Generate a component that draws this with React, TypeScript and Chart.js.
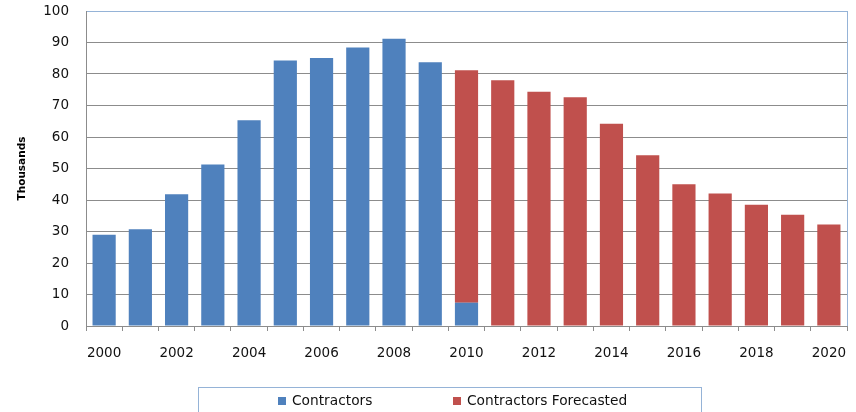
import React, { useEffect, useRef } from "react";
import { Chart, registerables } from "chart.js";

Chart.register(...registerables);

const years = [
  "2000", "2001", "2002", "2003", "2004", "2005", "2006", "2007", "2008", "2009", "2010",
  "2011", "2012", "2013", "2014", "2015", "2016", "2017", "2018", "2019", "2020",
];
const contractors = [29, 30.7, 41.8, 51.3, 65.3, 84.3, 85.1, 88.4, 91.2, 83.7, 7.4,
  null, null, null, null, null, null, null, null, null, null];
const contractorsForecasted = [null, null, null, null, null, null, null, null, null, null, 73.8,
  78, 74.4, 72.6, 64.2, 54.2, 45.0, 42.1, 38.5, 35.3, 32.2];
const seriesNames = ["Contractors", "Contractors Forecasted"];
const yTitle = "Thousands";

const BLUE = "#4F81BD";
const RED = "#C0504D";
const GRID = "#8C8C8C";
const FRAME = "#95B3D7";
const FONT = "'DejaVu Sans', Verdana, sans-serif";

const framePlugin = {
  id: "frame",
  afterDraw(chart: any) {
    const { ctx, chartArea } = chart;
    ctx.save();
    ctx.strokeStyle = FRAME;
    ctx.lineWidth = 1;
    ctx.beginPath();
    ctx.moveTo(Math.round(chartArea.right) + 0.5, chartArea.top);
    ctx.lineTo(Math.round(chartArea.right) + 0.5, chartArea.bottom);
    ctx.stroke();
    ctx.strokeStyle = FRAME;
    ctx.strokeRect(198.5, 387.5, 503, 40);
    const items = [
      { x: 278, color: BLUE, text: seriesNames[0] },
      { x: 453, color: RED, text: seriesNames[1] },
    ];
    ctx.font = `13.75px ${FONT}`;
    ctx.textBaseline = "middle";
    ctx.textAlign = "left";
    for (const it of items) {
      ctx.fillStyle = it.color;
      ctx.fillRect(it.x, 397, 8, 8);
      ctx.fillStyle = "#111";
      ctx.fillText(it.text, it.x + 14, 401.5);
    }
    ctx.restore();
  },
};

export default function App() {
  const ref = useRef<HTMLCanvasElement | null>(null);
  useEffect(() => {
    document.body.style.margin = "0";
    const chart = new Chart(ref.current!, {
      type: "bar",
      data: {
        labels: years,
        datasets: [
          { label: seriesNames[0], data: contractors as any, backgroundColor: BLUE, barPercentage: 0.64, categoryPercentage: 1 },
          { label: seriesNames[1], data: contractorsForecasted as any, backgroundColor: RED, barPercentage: 0.64, categoryPercentage: 1 },
        ],
      },
      options: {
        animation: false,
        responsive: true,
        maintainAspectRatio: false,
        layout: { padding: { top: 11, right: 9, left: 0, bottom: 0 } },
        plugins: { legend: { display: false }, tooltip: { enabled: false } },
        scales: {
          x: {
            stacked: true,
            afterFit: (s: any) => { s.height = 86; s.paddingLeft = 0; s.paddingRight = 0; },
            grid: { offset: true, drawOnChartArea: false, drawTicks: true, tickLength: 5, tickColor: GRID },
            border: { display: true, color: GRID },
            ticks: {
              autoSkip: false,
              maxRotation: 0,
              padding: 14,
              color: "#111",
              font: { family: FONT, size: 13.5 },
              callback: (_v: any, i: number) => (i % 2 === 0 ? years[i] : ""),
            },
          },
          y: {
            stacked: true,
            min: 0,
            max: 100,
            afterFit: (s: any) => { s.width = 86; s.paddingTop = 0; s.paddingBottom = 0; },
            grid: {
              drawTicks: false,
              color: (c: any) => (c.tick && c.tick.value === 100 ? FRAME : GRID),
            },
            border: { display: true, color: GRID },
            ticks: { stepSize: 10, padding: 17, color: "#111", font: { family: FONT, size: 13.5 } },
            title: {
              display: true,
              text: yTitle,
              color: "#000",
              font: { family: FONT, size: 10.5, weight: "bold" },
              padding: { top: 16, bottom: 0 },
            },
          },
        },
      },
      plugins: [framePlugin],
    });
    return () => chart.destroy();
  }, []);
  return (
    <div style={{ width: 856, height: 412, position: "relative", overflow: "hidden" }}>
      <canvas ref={ref} />
    </div>
  );
}
